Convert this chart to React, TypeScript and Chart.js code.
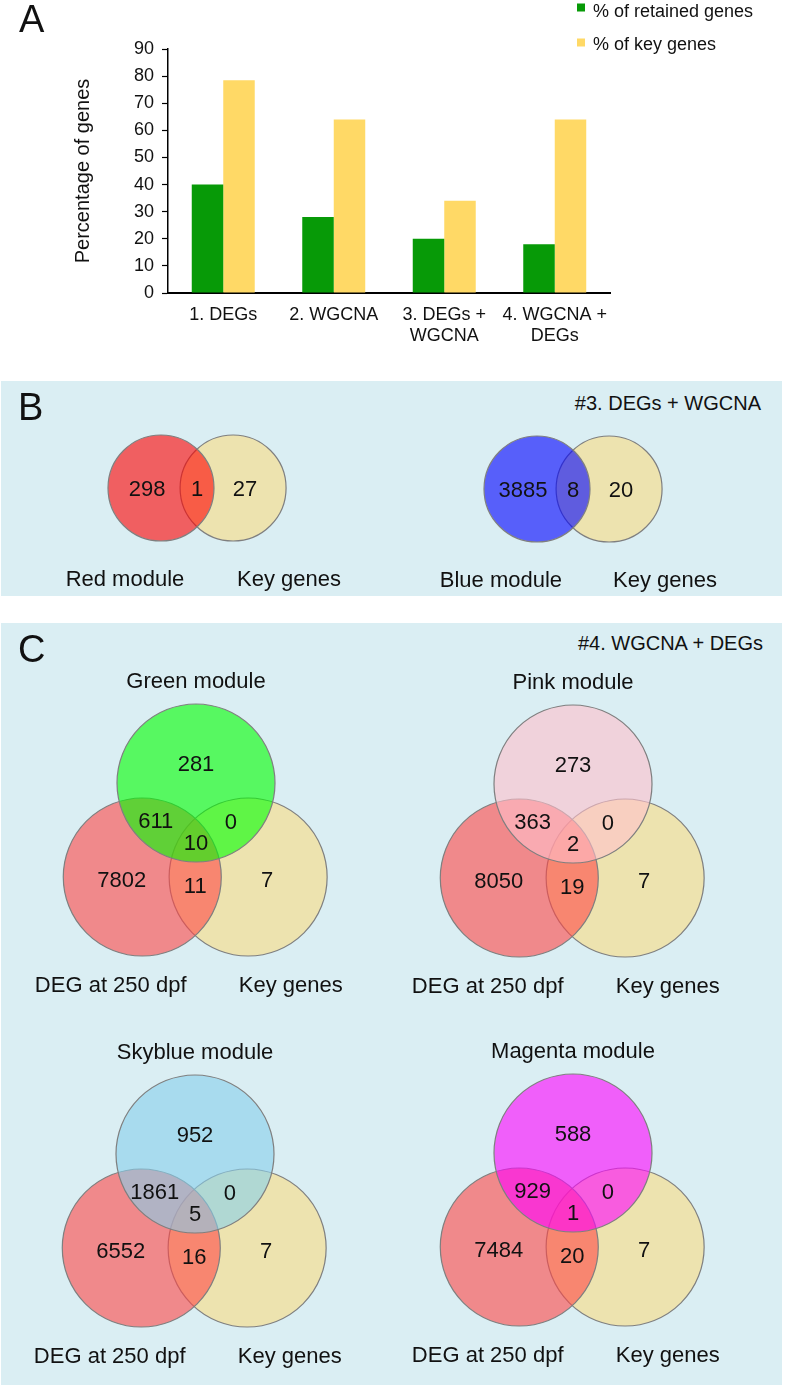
import React, { useEffect, useRef } from 'react';
import { Chart, registerables } from 'chart.js';

Chart.register(...registerables);

const FONT = '"Liberation Sans", Arial, Helvetica, sans-serif';
const TEXT = '#111111';
const PANEL_BG = '#daeef3';

// ---------------- Panel A data ----------------
const barCategories: string[][] = [['1. DEGs'], ['2. WGCNA'], ['3. DEGs +', 'WGCNA'], ['4. WGCNA +', 'DEGs']];
const retainedGenesPct = [40, 28, 20, 18];
const keyGenesPct = [78.5, 64, 34, 64];
const seriesLabels = ['% of retained genes', '% of key genes'];
const yAxisTitle = 'Percentage of genes';
const yAxisMin = 0;
const yAxisMax = 90;
const yAxisStep = 10;

// ---------------- Panel B data ----------------
const panelBHeader = '#3. DEGs + WGCNA';
const redModuleSets = ['Red module', 'Key genes'];
const redModuleCounts = [298, 1, 27]; // module only, shared, key only
const blueModuleSets = ['Blue module', 'Key genes'];
const blueModuleCounts = [3885, 8, 20];

// ---------------- Panel C data ----------------
const panelCHeader = '#4. WGCNA + DEGs';
const degSetName = 'DEG at 250 dpf';
const keySetName = 'Key genes';
// order: module only, module∩DEG, module∩key, all three, DEG only, DEG∩key, key only
const greenModuleCounts = [281, 611, 0, 10, 7802, 11, 7];
const pinkModuleCounts = [273, 363, 0, 2, 8050, 19, 7];
const skyblueModuleCounts = [952, 1861, 0, 5, 6552, 16, 7];
const magentaModuleCounts = [588, 929, 0, 1, 7484, 20, 7];

// ---------------- Styles ----------------
const GREEN_BAR = '#079a07';
const YELLOW_BAR = '#ffd966';
const KEY_FILL = 'rgba(250,220,130,0.6)';
const DEG_FILL = 'rgba(255,70,70,0.6)';
const CIRCLE_BORDER = '#7f7f7f';

// Venn layouts (units of circle radius)
type Pt = { x: number; y: number };
const CIRCLE_R = 1;
const VENN2 = {
  unit: 53,
  size: [360, 200] as [number, number],
  origin: [130, 90] as [number, number],
  circles: [{ x: 1.36, y: 0 }, { x: 0, y: 0 }], // key first, module on top
  countAnchors: [{ x: -0.264, y: 0.03 }, { x: 0.68, y: 0.03 }, { x: 1.585, y: 0.03 }],
  nameAnchors: [{ x: -0.68, y: 1.85 }, { x: 2.415, y: 1.85 }],
};
const VENN3 = {
  unit: 79,
  size: [370, 350] as [number, number],
  origin: [185, 125] as [number, number],
  circles: [{ x: 0.66, y: 1.19 }, { x: -0.68, y: 1.19 }, { x: 0, y: 0 }], // key, DEG, module
  countAnchors: [
    { x: 0, y: -0.23 }, { x: -0.51, y: 0.49 }, { x: 0.44, y: 0.5 }, { x: 0, y: 0.77 },
    { x: -0.94, y: 1.24 }, { x: -0.01, y: 1.32 }, { x: 0.9, y: 1.24 },
  ],
  nameAnchors: [{ x: 0, y: -1.203 }, { x: -1.08, y: 2.65 }, { x: 1.2, y: 2.65 }],
};

// ---------------- Bar chart (panel A) ----------------
function BarPanel() {
  const ref = useRef<HTMLCanvasElement>(null);
  useEffect(() => {
    const legendPlugin = {
      id: 'cornerLegend',
      afterDraw(chart: any) {
        const ctx = chart.ctx;
        ctx.save();
        ctx.font = `18px ${FONT}`;
        ctx.textAlign = 'left';
        ctx.textBaseline = 'alphabetic';
        chart.data.datasets.forEach((ds: any, i: number) => {
          ctx.fillStyle = ds.backgroundColor;
          ctx.fillRect(577, 3.5 + i * 35, 8, 8);
          ctx.fillStyle = TEXT;
          ctx.fillText(ds.label, 593, 16.5 + i * 33.5);
        });
        ctx.restore();
      },
    };
    const chart = new Chart(ref.current as HTMLCanvasElement, {
      type: 'bar',
      data: {
        labels: barCategories,
        datasets: [
          { label: seriesLabels[0], data: retainedGenesPct, backgroundColor: GREEN_BAR, borderWidth: 0, categoryPercentage: 0.57, barPercentage: 1 },
          { label: seriesLabels[1], data: keyGenesPct, backgroundColor: YELLOW_BAR, borderWidth: 0, categoryPercentage: 0.57, barPercentage: 1 },
        ],
      },
      options: {
        responsive: false,
        animation: false,
        events: [],
        layout: { padding: { left: 0, top: 49, right: 176, bottom: 0 } },
        plugins: { legend: { display: false }, tooltip: { enabled: false } },
        scales: {
          x: {
            grid: { display: false, drawTicks: false },
            border: { display: true, color: '#000', width: 2 },
            ticks: { color: TEXT, font: { family: FONT, size: 18 }, padding: 11, maxRotation: 0, autoSkip: false },
            afterFit: (a: any) => { a.height = 59; },
          },
          y: {
            min: yAxisMin,
            max: yAxisMax,
            ticks: { stepSize: yAxisStep, color: TEXT, font: { family: FONT, size: 18 }, padding: 8 },
            grid: { drawOnChartArea: false, drawTicks: true, tickLength: 6, tickColor: '#000', tickWidth: 1.2 },
            border: { display: true, color: '#000', width: 1.5 },
            title: { display: true, text: yAxisTitle, color: TEXT, font: { family: FONT, size: 20 }, padding: { top: 71, bottom: 0 } },
            afterFit: (a: any) => { a.width = 168; },
          },
        },
      } as any,
      plugins: [legendPlugin],
    });
    return () => chart.destroy();
  }, []);
  return <canvas ref={ref} width={786} height={352} style={{ position: 'absolute', left: 0, top: 0, display: 'block' }} />;
}

// ---------------- Venn chart ----------------
interface VennProps {
  center: [number, number];
  layout: typeof VENN2 | typeof VENN3;
  colors: string[];
  counts: number[];
  names: string[];
}

function VennChart({ center, layout, colors, counts, names }: VennProps) {
  const ref = useRef<HTMLCanvasElement>(null);
  const [w, h] = layout.size;
  const [ox, oy] = layout.origin;
  useEffect(() => {
    const u = layout.unit;
    const textPlugin = {
      id: 'vennText',
      afterDatasetsDraw(chart: any) {
        const { ctx } = chart;
        const sx = chart.scales.x;
        const sy = chart.scales.y;
        ctx.save();
        ctx.fillStyle = TEXT;
        ctx.textAlign = 'center';
        ctx.font = `22px ${FONT}`;
        ctx.textBaseline = 'middle';
        counts.forEach((v, i) => {
          const a = layout.countAnchors[i];
          ctx.fillText(String(v), sx.getPixelForValue(a.x), sy.getPixelForValue(a.y));
        });
        ctx.textBaseline = 'alphabetic';
        names.forEach((n, i) => {
          const a = layout.nameAnchors[i];
          ctx.fillText(n, sx.getPixelForValue(a.x), sy.getPixelForValue(a.y));
        });
        ctx.restore();
      },
    };
    // circle radius in pixels, derived from the x scale's value range over the canvas width
    const radiusFromScale = (c: any) => {
      const s = c.chart.scales.x;
      let v = NaN;
      if (s && s.width > 0) v = Math.abs(s.getPixelForValue(CIRCLE_R) - s.getPixelForValue(0));
      if (!Number.isFinite(v) || v <= 0) {
        const opt = c.chart.options.scales.x;
        v = (CIRCLE_R * c.chart.width) / (opt.max - opt.min);
      }
      return v;
    };
    const chart = new Chart(ref.current as HTMLCanvasElement, {
      type: 'bubble',
      data: {
        datasets: [
          {
            label: names.join(' / '),
            data: layout.circles.map((c: Pt) => ({ x: c.x, y: c.y })),
            backgroundColor: colors,
            borderColor: CIRCLE_BORDER,
            borderWidth: 1.2,
            radius: radiusFromScale,
            hoverRadius: 0,
            clip: false,
          } as any,
        ],
      },
      options: {
        responsive: false,
        animation: false,
        events: [],
        layout: { padding: 0, autoPadding: false },
        plugins: { legend: { display: false }, tooltip: { enabled: false } },
        scales: {
          x: { type: 'linear', display: false, bounds: 'data', min: -ox / u, max: (w - ox) / u },
          y: { type: 'linear', display: false, bounds: 'data', reverse: true, min: -oy / u, max: (h - oy) / u },
        },
      } as any,
      plugins: [textPlugin],
    });
    return () => chart.destroy();
  }, []);
  return (
    <canvas
      ref={ref}
      width={w}
      height={h}
      style={{ position: 'absolute', left: center[0] - ox, top: center[1] - oy, display: 'block' }}
    />
  );
}

const letterStyle: React.CSSProperties = {
  position: 'absolute',
  fontFamily: FONT,
  fontSize: 38,
  lineHeight: '38px',
  color: TEXT,
};
const headerStyle: React.CSSProperties = {
  position: 'absolute',
  fontFamily: FONT,
  fontSize: 20,
  lineHeight: '20px',
  color: TEXT,
  textAlign: 'right',
  whiteSpace: 'nowrap',
};

export default function App() {
  return (
    <div style={{ position: 'absolute', left: 0, top: 0, width: 786, height: 1388, background: '#fff', overflow: 'hidden' }}>
      <BarPanel />
      <div style={{ ...letterStyle, left: 19, top: 0 }}>A</div>

      <div style={{ position: 'absolute', left: 1, top: 381, width: 781, height: 215, background: PANEL_BG }} />
      <div style={{ ...letterStyle, left: 18, top: 388 }}>B</div>
      <div style={{ ...headerStyle, left: 400, width: 361, top: 393 }}>{panelBHeader}</div>
      <VennChart center={[161, 488]} layout={VENN2} colors={[KEY_FILL, 'rgba(255,0,0,0.6)']} counts={redModuleCounts} names={redModuleSets} />
      <VennChart center={[537, 489]} layout={VENN2} colors={[KEY_FILL, 'rgba(0,0,255,0.6)']} counts={blueModuleCounts} names={blueModuleSets} />

      <div style={{ position: 'absolute', left: 1, top: 623, width: 781, height: 762, background: PANEL_BG }} />
      <div style={{ ...letterStyle, left: 18, top: 630 }}>C</div>
      <div style={{ ...headerStyle, left: 400, width: 363, top: 633 }}>{panelCHeader}</div>
      <VennChart center={[196, 783]} layout={VENN3} colors={[KEY_FILL, DEG_FILL, 'rgba(0,255,0,0.6)']} counts={greenModuleCounts} names={['Green module', degSetName, keySetName]} />
      <VennChart center={[573, 784]} layout={VENN3} colors={[KEY_FILL, DEG_FILL, 'rgba(255,192,203,0.6)']} counts={pinkModuleCounts} names={['Pink module', degSetName, keySetName]} />
      <VennChart center={[195, 1154]} layout={VENN3} colors={[KEY_FILL, DEG_FILL, 'rgba(135,206,235,0.6)']} counts={skyblueModuleCounts} names={['Skyblue module', degSetName, keySetName]} />
      <VennChart center={[573, 1153]} layout={VENN3} colors={[KEY_FILL, DEG_FILL, 'rgba(255,0,255,0.6)']} counts={magentaModuleCounts} names={['Magenta module', degSetName, keySetName]} />
    </div>
  );
}
